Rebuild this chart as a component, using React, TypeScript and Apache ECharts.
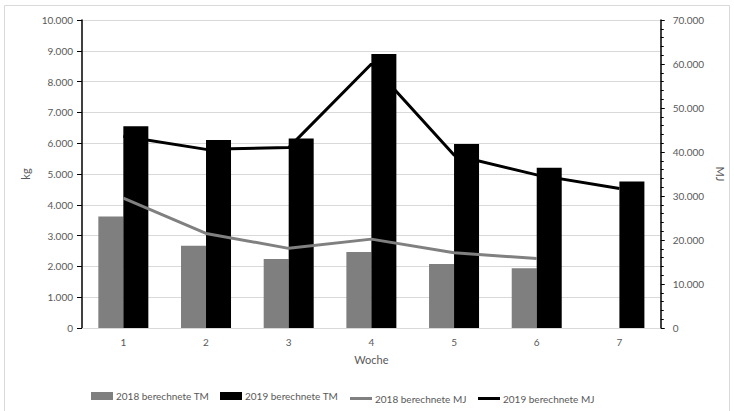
import React, { useEffect, useRef } from "react";
import * as echarts from "echarts";

const weeks = ["1", "2", "3", "4", "5", "6", "7"];
const tm2018 = [3620, 2670, 2240, 2470, 2080, 1940, null];
const tm2019 = [6550, 6100, 6150, 8900, 5970, 5200, 4760];
const mj2018 = [29500, 21500, 18100, 20200, 17100, 15800, null];
const mj2019 = [43600, 40600, 41000, 60000, 39300, 34800, 31700];
const seriesNames = ["2018 berechnete TM", "2019 berechnete TM", "2018 berechnete MJ", "2019 berechnete MJ"];

const FONT = "Lato";
const TXT = "#595959";

const fmt = (v: number) => {
  const s = Math.round(v).toString();
  return s.replace(/\B(?=(\d{3})+(?!\d))/g, ".");
};

const legendAt = (name: string, left: number, isLine: boolean) => ({
  left,
  top: isLine ? 393.5 : 391,
  padding: 0,
  itemWidth: 22,
  itemHeight: isLine ? 3 : 8,
  icon: "rect",
  textStyle: { color: TXT, fontSize: 10, fontFamily: FONT, padding: [0, 0, 0, -2] },
  data: [{ name, icon: "rect" }],
});

export default function App() {
  const ref = useRef<HTMLDivElement>(null);
  useEffect(() => {
    document.body.style.margin = "0";
    const chart = echarts.init(ref.current!, undefined, { renderer: "svg" });
    chart.setOption({
      animation: false,
      backgroundColor: "#ffffff",
      textStyle: { fontFamily: FONT },
      graphic: [
        {
          type: "rect",
          shape: { x: 4.5, y: 5.5, width: 725, height: 410 },
          style: { fill: "none", stroke: "#d9d9d9", lineWidth: 1 },
          silent: true,
        },
      ],
      grid: { left: 82, right: 67, top: 20, bottom: 83, containLabel: false },
      legend: [
        legendAt(seriesNames[0], 91, false),
        legendAt(seriesNames[1], 220, false),
        legendAt(seriesNames[2], 350, true),
        legendAt(seriesNames[3], 478, true),
      ],
      xAxis: {
        type: "category",
        data: weeks,
        name: "Woche",
        nameLocation: "middle",
        nameGap: 26,
        nameTextStyle: { color: TXT, fontSize: 11, fontFamily: FONT },
        axisLine: { lineStyle: { color: "#d9d9d9", width: 1 } },
        axisTick: { show: false },
        axisLabel: { color: TXT, fontSize: 10, margin: 9 },
      },
      yAxis: [
        {
          type: "value",
          min: 0,
          max: 10000,
          interval: 1000,
          name: "kg",
          nameLocation: "middle",
          nameGap: 46,
          nameTextStyle: { color: TXT, fontSize: 11, fontFamily: FONT },
          axisLine: { show: true, lineStyle: { color: "#000", width: 1.5 } },
          axisTick: { show: true, length: 5, lineStyle: { color: "#000" } },
          axisLabel: { color: TXT, fontSize: 10, margin: 9, formatter: fmt },
          splitLine: { lineStyle: { color: "#d9d9d9", width: 1 } },
        },
        {
          type: "value",
          min: 0,
          max: 70000,
          interval: 10000,
          name: "MJ",
          nameLocation: "middle",
          nameGap: 49,
          nameRotate: -90,
          nameTextStyle: { color: TXT, fontSize: 11, fontFamily: FONT },
          axisLine: { show: true, lineStyle: { color: "#000", width: 1.5 } },
          axisTick: { show: true, length: 4, lineStyle: { color: "#000" } },
          minorTick: { show: true, splitNumber: 5, length: 3, lineStyle: { color: "#000" } },
          axisLabel: { color: TXT, fontSize: 10, margin: 12, formatter: fmt },
          splitLine: { show: false },
        },
      ],
      series: [
        {
          name: seriesNames[0],
          type: "bar",
          data: tm2018,
          barWidth: 25,
          barGap: "0%",
          itemStyle: { color: "#7f7f7f" },
        },
        {
          name: seriesNames[1],
          type: "bar",
          data: tm2019,
          barWidth: 25,
          barGap: "0%",
          itemStyle: { color: "#000000" },
        },
        {
          name: seriesNames[2],
          type: "line",
          yAxisIndex: 1,
          data: mj2018,
          smooth: false,
          symbol: "none",
          lineStyle: { color: "#808080", width: 3 },
          itemStyle: { color: "#808080" },
        },
        {
          name: seriesNames[3],
          type: "line",
          yAxisIndex: 1,
          data: mj2019,
          smooth: false,
          symbol: "none",
          lineStyle: { color: "#000000", width: 3 },
          itemStyle: { color: "#000000" },
        },
      ],
    });
    return () => chart.dispose();
  }, []);
  return <div ref={ref} style={{ width: 734, height: 411 }} />;
}
